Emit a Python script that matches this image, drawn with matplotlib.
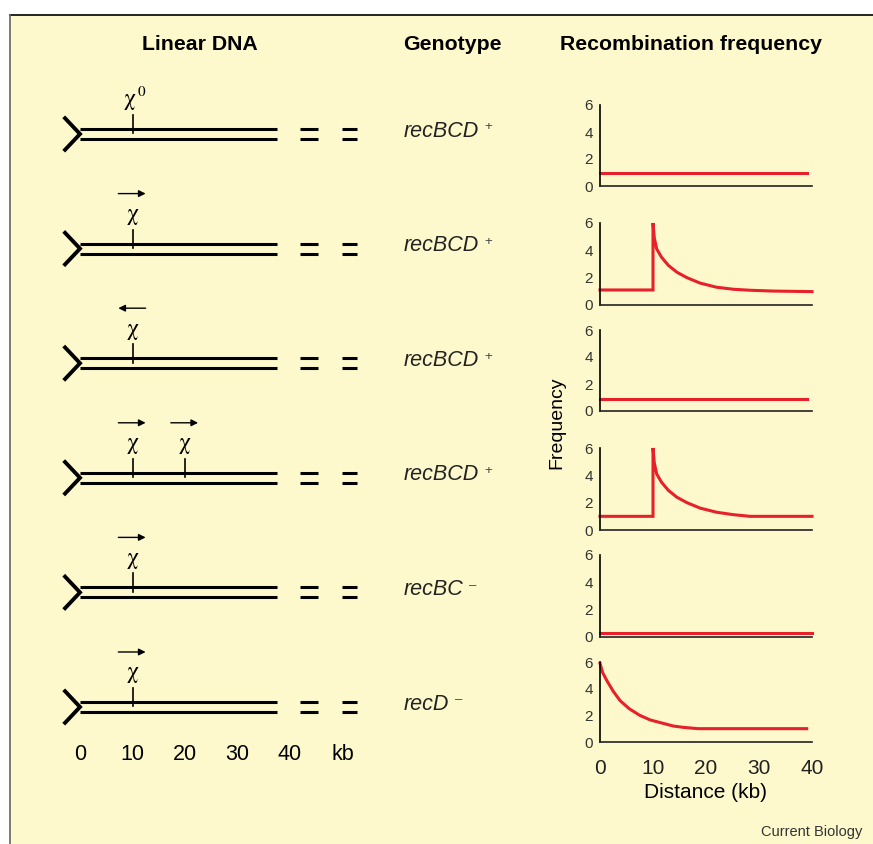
import matplotlib
matplotlib.use('Agg')
import matplotlib.pyplot as plt
import matplotlib.transforms as mtransforms
from matplotlib.lines import Line2D
from matplotlib.patches import Rectangle

plt.rcParams['font.family'] = ['Liberation Sans', 'DejaVu Sans']

# ---- data ----
genotypes = ['recBCD', 'recBCD', 'recBCD', 'recBCD', 'recBC', 'recD']
geno_signs = ['+', '+', '+', '+', '\u2013', '\u2013']
chi_sites = [[10], [10], [10], [10, 20], [10], [10]]
chi_dirs = [0, 1, -1, 1, 1, 1]   # 0 = chi0, 1 = arrow right, -1 = arrow left
dna_length = 37.5                # kb
kb_ticks = [0, 10, 20, 30, 40]

freq_x = [
    [0, 39],
    [0, 10, 10, 10.25, 10.7, 11.6, 12.9, 14.5, 16.4, 18.9, 22, 25.2, 28.3, 32.7, 40],
    [0, 39],
    [0, 10, 10, 10.25, 10.7, 11.6, 12.9, 14.5, 16.4, 18.9, 22, 25.2, 28.3, 40],
    [0, 40],
    [0, 0.5, 1.3, 2.5, 3.8, 5.5, 7.5, 9.5, 11.9, 13.8, 15.7, 18.5, 39],
]
freq_y = [
    [0.95, 0.95],
    [1.1, 1.1, 6.0, 4.9, 4.1, 3.5, 2.9, 2.4, 2.0, 1.6, 1.3, 1.15, 1.08, 1.02, 0.98],
    [0.88, 0.88],
    [1.0, 1.0, 6.0, 4.9, 4.1, 3.5, 2.9, 2.4, 2.0, 1.6, 1.3, 1.12, 1.0, 1.0],
    [0.28, 0.28],
    [5.9, 5.2, 4.6, 3.8, 3.1, 2.5, 2.0, 1.65, 1.4, 1.2, 1.1, 1.0, 1.0],
]

# ---- layout (pixels) ----
W, H = 873, 844
BG = '#FEF9CC'
RED = '#E8202A'
KB0, KBPX = 80, 5.25          # x pixel of 0 kb, pixels per kb
ROW0, ROWPX = 134, 114.6      # y pixel of first DNA row, pixels per row
panel_tops = [105, 223, 330, 448, 555, 662]
panel_bottoms = [186, 305, 411, 530, 637, 742]

fig = plt.figure(figsize=(W / 100, H / 100), dpi=100)
fig.patch.set_facecolor('white')
fig.patches.append(Rectangle((10 / W, 0), 1 - 10 / W, 1 - 15 / H, transform=fig.transFigure,
                             facecolor=BG, edgecolor='none', zorder=-5))
fig.add_artist(Line2D([10 / W, 1], [1 - 15 / H] * 2, color='black', lw=1.2, zorder=-4))
fig.add_artist(Line2D([10 / W] * 2, [0, 1 - 15 / H], color='#666666', lw=1.2, zorder=-4))

# DNA diagrams, x in kb, y in rows
ax = fig.add_axes([0, 0, 1, 1])
ax.set_axis_off()
ax.patch.set_alpha(0)
ax.set_xlim(-KB0 / KBPX, (W - KB0) / KBPX)
ax.set_ylim((H - ROW0) / ROWPX, -ROW0 / ROWPX)

gap = 5 / ROWPX
for i in range(len(genotypes)):
    for s in (-1, 1):
        ax.plot([0, dna_length], [i + s * gap] * 2, color='black', lw=2.2, solid_capstyle='butt')
        for x0, x1 in [(41.9, 45.3), (49.9, 52.8)]:
            ax.plot([x0, x1], [i + s * gap] * 2, color='black', lw=2.2, solid_capstyle='butt')
    ax.plot([-3.1, 0, -3.1], [i - 0.15, i, i + 0.15], color='black', lw=2.8,
            solid_joinstyle='miter', solid_capstyle='butt')
    for c in chi_sites[i]:
        ax.plot([c, c], [i - 0.166, i - 0.005], color='black', lw=1.2)
        if chi_dirs[i] == 0:
            t = ax.text(c - 0.5, i - 0.30, '\u03c7', family='STIXGeneral', fontsize=17,
                        ha='center', va='center')
            ax.annotate('0', xy=(1, 0.85), xycoords=t, xytext=(1, 0), textcoords='offset points',
                        family='STIXGeneral', fontsize=11, ha='left', va='center')
        else:
            ax.text(c, i - 0.30, '\u03c7', family='STIXGeneral', fontsize=17,
                    ha='center', va='center')
            x_tail, x_head = (c - 2.7, c + 2.5) if chi_dirs[i] > 0 else (c + 2.5, c - 2.7)
            ax.annotate('', xy=(x_head, i - 0.48), xytext=(x_tail, i - 0.48),
                        arrowprops=dict(arrowstyle='-|>', lw=1.0, color='black',
                                        mutation_scale=10, shrinkA=0, shrinkB=0))

for k in kb_ticks:
    ax.text(k, (755 - ROW0) / ROWPX, str(k), fontsize=15.5, ha='center', va='center')
ax.text(50, (755 - ROW0) / ROWPX, 'kb', fontsize=15.5, ha='center', va='center')

# genotype column
trans = mtransforms.blended_transform_factory(fig.transFigure, ax.transData)
for i, (g, sgn) in enumerate(zip(genotypes, geno_signs)):
    t = ax.text(404 / W, i - 0.025, g, transform=trans, style='italic', fontsize=15.5,
                ha='left', va='center', color='#222222')
    ax.annotate(sgn, xy=(1, 0.68), xycoords=t, xytext=(4, 0), textcoords='offset points',
                fontsize=9.5, ha='left', va='center', color='#444444')

# headers
for x, label in [(200, 'Linear DNA'), (452, 'Genotype'), (691, 'Recombination frequency')]:
    fig.text(x / W, 1 - 45 / H, label, fontsize=15.3, fontweight='bold', ha='center', va='center')

# recombination frequency panels
for i in range(len(freq_x)):
    top, bot = panel_tops[i], panel_bottoms[i]
    axp = fig.add_axes([600 / W, 1 - bot / H, 212 / W, (bot - top) / H])
    axp.patch.set_alpha(0)
    axp.plot(freq_x[i], freq_y[i], color=RED, lw=2.2, clip_on=False, solid_joinstyle='miter')
    axp.set_xlim(0, 40)
    axp.set_ylim(0, 6)
    axp.spines[['top', 'right']].set_visible(False)
    axp.spines[['left', 'bottom']].set_linewidth(1.2)
    axp.spines['left'].set_color('black')
    axp.spines['bottom'].set_color('#222222')
    axp.set_yticks([0, 2, 4, 6])
    axp.tick_params(axis='y', length=0, pad=5, labelsize=11, labelcolor='#333333')
    if i == len(freq_x) - 1:
        axp.set_xticks(kb_ticks)
        axp.tick_params(axis='x', length=0, pad=12, labelsize=15, labelcolor='#222222')
        axp.set_xlabel('Distance (kb)', fontsize=15, labelpad=4)
    else:
        axp.set_xticks([])

fig.text(557 / W, 1 - 423 / H, 'Frequency', fontsize=14, rotation=90, ha='center', va='center')
fig.text(862 / W, 1 - 832 / H, 'Current Biology', fontsize=10.5, ha='right', va='center',
         color='#333333')

fig.savefig('out.png', dpi=100, facecolor=fig.get_facecolor())
